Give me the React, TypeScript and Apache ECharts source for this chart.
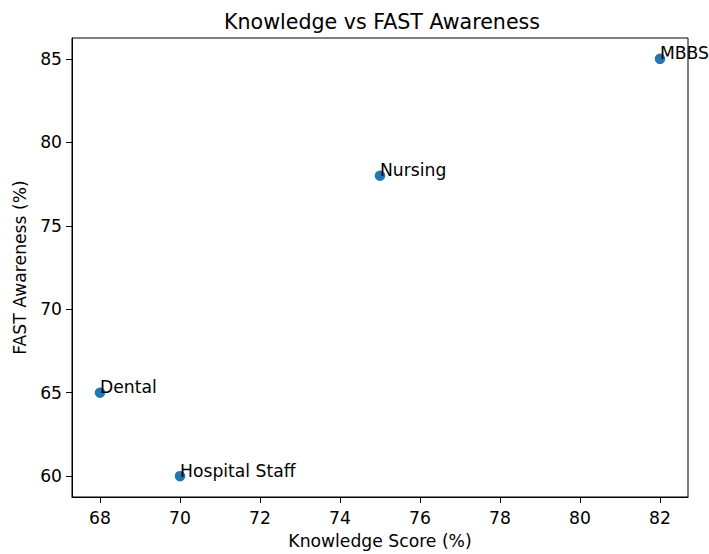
import React, { useEffect, useRef } from "react";
import * as echarts from "echarts";

const groups = ["MBBS", "Nursing", "Dental", "Hospital Staff"];
const knowledge = [82, 75, 68, 70];
const awareness = [85, 78, 65, 60];
const xTicks = [68, 70, 72, 74, 76, 78, 80, 82];
const yTicks = [60, 65, 70, 75, 80, 85];

const FONT = "DejaVu Sans";
const FS = 17.2;
const SYM = 10.5;

export default function App() {
  const ref = useRef<HTMLDivElement>(null);
  useEffect(() => {
    if (!ref.current) return;
    const chart = echarts.init(ref.current, undefined, { renderer: "svg" });
    chart.setOption({
      animation: false,
      backgroundColor: "#fff",
      title: {
        text: "Knowledge vs FAST Awareness",
        left: 219,
        top: 6,
        textStyle: { fontFamily: FONT, fontSize: 20.6, fontWeight: "normal", color: "#000" },
      },
      grid: {
        left: 72,
        right: 21,
        top: 38,
        bottom: 57,
        show: true,
        borderColor: "#000",
        borderWidth: 1,
        backgroundColor: "transparent",
      },
      xAxis: {
        type: "value",
        min: 67.3,
        max: 82.7,
        name: "Knowledge Score (%)",
        nameLocation: "middle",
        nameGap: 35,
        nameTextStyle: { fontFamily: FONT, fontSize: FS, color: "#000" },
        splitLine: { show: false },
        axisLine: { show: true, lineStyle: { color: "#000", width: 1 } },
        axisTick: { show: true, length: 6, lineStyle: { color: "#000" }, customValues: xTicks },
        axisLabel: {
          customValues: xTicks,
          margin: 12,
          fontFamily: FONT,
          fontSize: FS,
          color: "#000",
        },
      },
      yAxis: {
        type: "value",
        min: 58.75,
        max: 86.25,
        name: "FAST Awareness (%)",
        nameLocation: "middle",
        nameGap: 44,
        nameRotate: 90,
        nameTextStyle: { fontFamily: FONT, fontSize: FS, color: "#000" },
        splitLine: { show: false },
        axisLine: { show: true, lineStyle: { color: "#000", width: 1 } },
        axisTick: { show: true, length: 6, lineStyle: { color: "#000" }, customValues: yTicks },
        axisLabel: {
          customValues: yTicks,
          margin: 10,
          fontFamily: FONT,
          fontSize: FS,
          color: "#000",
        },
      },
      series: [
        {
          type: "scatter",
          symbolSize: SYM,
          clip: false,
          itemStyle: { color: "#1f77b4", opacity: 1 },
          data: groups.map((g, i) => ({ name: g, value: [knowledge[i], awareness[i]] })),
          label: {
            show: true,
            formatter: (p: any) => p.name,
            position: [SYM / 2, SYM / 2 + 3],
            align: "left",
            verticalAlign: "bottom",
            fontFamily: FONT,
            fontSize: FS,
            color: "#000",
          },
        },
      ],
    });
    return () => chart.dispose();
  }, []);
  return (
    <div
      ref={ref}
      style={{ position: "fixed", left: 0, top: 0, width: 709, height: 554 }}
    />
  );
}
